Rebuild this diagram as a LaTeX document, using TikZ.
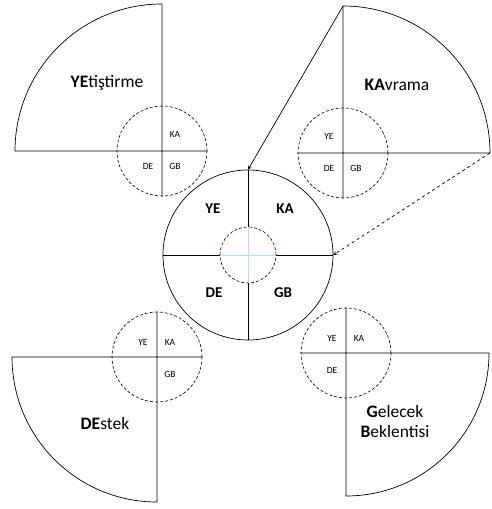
\documentclass[tikz,border=0pt]{standalone}
\usepackage{fontspec}
\setmainfont{Carlito}
\usepackage{xcolor}
\usepackage{tikz}

\begin{document}
\begin{tikzpicture}[x=1pt, y=1pt, line width=0.7pt,
    ring/.style={circle, draw, densely dashed, line width=0.6pt, minimum size=90pt, inner sep=0pt},
    tag/.style={font=\fontsize{9.5}{11}\selectfont},
    big/.style={font=\fontsize{15}{17}\selectfont\bfseries},
    title/.style={font=\fontsize{17.5}{20}\selectfont, align=center}]
    \useasboundingbox (0,0) rectangle (491,509);

    % YEtistirme
    \node[ring] (yering) at (162,358) {};
    \draw (yering.east) -- (15,358) arc (180:90:147) -- (yering.south);
    \node[tag] at ([shift={(13,17)}]yering.center) {KA};
    \node[tag] at ([shift={(-14,-15)}]yering.center) {DE};
    \node[tag] at ([shift={(13,-15)}]yering.center) {GB};
    \node[title] (yetitle) at (107,426) {\textbf{YE}tiştirme};

    % KAvrama
    \node[ring] (karing) at (343,356) {};
    \draw (karing.west) -- (490,356) coordinate (karight) arc (0:90:147) coordinate (katop) -- (karing.south);
    \node[tag] at ([shift={(-14,17)}]karing.center) {YE};
    \node[tag] at ([shift={(-14,-15)}]karing.center) {DE};
    \node[tag] at ([shift={(13,-15)}]karing.center) {GB};
    \node[title] (katitle) at (397,424) {\textbf{KA}vrama};

    % DEstek
    \node[ring] (dering) at (157,152) {};
    \draw (dering.north) -- (157,7) arc (270:180:145) -- (dering.east);
    \node[tag] at ([shift={(-14,15)}]dering.center) {YE};
    \node[tag] at ([shift={(13,15)}]dering.center) {KA};
    \node[tag] at ([shift={(13,-17)}]dering.center) {GB};
    \node[title] (detitle) at (105,86) {\textbf{DE}stek};

    % Gelecek Beklentisi
    \node[ring] (gbring) at (346,156) {};
    \draw (gbring.north) -- (346,13) arc (-90:0:143) -- (gbring.west);
    \node[tag] at ([shift={(-14,15)}]gbring.center) {YE};
    \node[tag] at ([shift={(13,15)}]gbring.center) {KA};
    \node[tag] at ([shift={(-14,-17)}]gbring.center) {DE};
    \node[title] (gbtitle) at (395,88) {\textbf{G}elecek\\\textbf{B}eklentisi};

    % center
    \node[circle, draw, minimum size=170pt, inner sep=0pt] (mid) at (248,254) {};
    \node[ring, minimum size=56pt] (core) at (248,254) {};
    \draw (mid.north) -- (core.north) (core.south) -- (mid.south)
          (mid.west) -- (core.west) (core.east) -- (mid.east);
    \draw[cyan!35] (core.north) -- (core.south) (core.west) -- (core.east);
    \node[big] at ([shift={(-35,46)}]mid.center) {YE};
    \node[big] at ([shift={(37,46)}]mid.center) {KA};
    \node[big] at ([shift={(-34,-38)}]mid.center) {DE};
    \node[big] at ([shift={(35,-38)}]mid.center) {GB};

    \draw[->, >=stealth] (katop) -- (mid.north);
    \draw[->, >=stealth, dashed] (karight) -- (mid.east);
\end{tikzpicture}
\end{document}
